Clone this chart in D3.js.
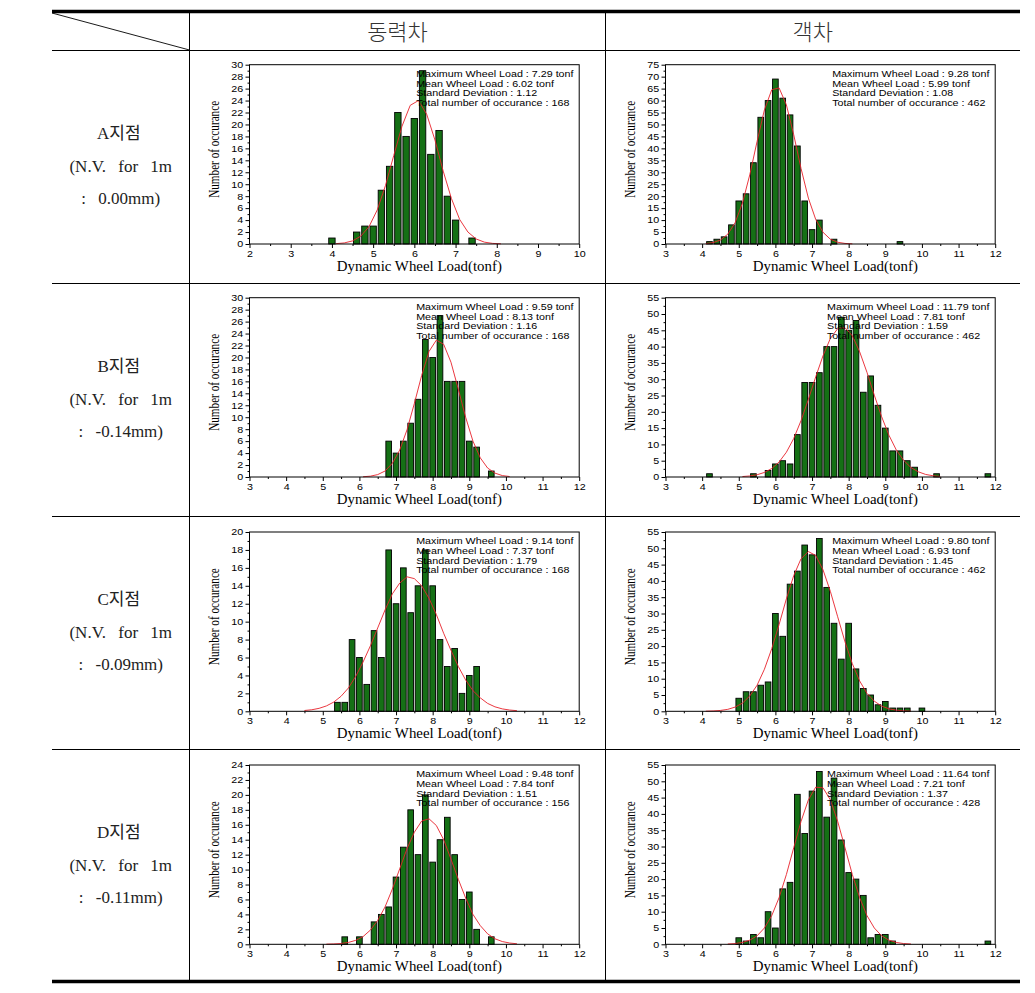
<!DOCTYPE html>
<html><head><meta charset="utf-8">
<script src="https://cdn.jsdelivr.net/npm/d3@7"></script>
<style>body{margin:0;background:#fff}</style>
</head><body><svg id="c" width="1035" height="993"></svg>
<script>
// ---------- text ----------
const columnTitles = ["동력차", "객차"];
const rowNames = ["A지점", "B지점", "C지점", "D지점"];
const rowSubLine = ["(N.V. for 1m", "(N.V. for 1m", "(N.V. for 1m", "(N.V. for 1m"];
const rowOffsets = [": 0.00mm)", ": -0.14mm)", ": -0.09mm)", ": -0.11mm)"];
const xTitle = "Dynamic Wheel Load(tonf)";
const yTitle = "Number of occurance";

// ---------- tick labels ----------
const xTicksA1 = [2, 3, 4, 5, 6, 7, 8, 9, 10];
const xTicksOther = [3, 4, 5, 6, 7, 8, 9, 10, 11, 12];
const yTicks30 = [0, 2, 4, 6, 8, 10, 12, 14, 16, 18, 20, 22, 24, 26, 28, 30];
const yTicks24 = [0, 2, 4, 6, 8, 10, 12, 14, 16, 18, 20, 22, 24];
const yTicks20 = [0, 2, 4, 6, 8, 10, 12, 14, 16, 18, 20];
const yTicks55 = [0, 5, 10, 15, 20, 25, 30, 35, 40, 45, 50, 55];
const yTicks75 = [0, 5, 10, 15, 20, 25, 30, 35, 40, 45, 50, 55, 60, 65, 70, 75];

// ---------- A point, power car ----------
const binsA1 = [4.0, 4.6, 4.8, 5.0, 5.2, 5.4, 5.6, 5.8, 6.0, 6.2, 6.4, 6.6, 6.8, 7.0, 7.4];
const countsA1 = [1, 2, 3, 3, 9, 13, 22, 18, 21, 29, 15, 19, 8, 4, 1];
const fitXA1 = [4.1, 4.3, 4.5, 4.7, 4.9, 5.1, 5.3, 5.5, 5.7, 5.9, 6.1, 6.3, 6.5, 6.7, 6.9, 7.1, 7.3, 7.5, 7.7, 7.9, 8.1];
const fitYA1 = [0.06, 0.18, 0.52, 1.31, 2.9, 5.7, 9.8, 14.8, 19.7, 23.2, 24, 21.7, 17.4, 12.2, 7.6, 4.1, 2.0, 0.84, 0.31, 0.1, 0.03];
const statsA1 = ["Maximum Wheel Load : 7.29 tonf", "Mean Wheel Load : 6.02 tonf", "Standard Deviation : 1.12", "Total number of occurance : 168"];

// ---------- A point, passenger car ----------
const binsA2 = [4.2, 4.4, 4.6, 4.8, 5.0, 5.2, 5.4, 5.6, 5.8, 6.0, 6.2, 6.4, 6.6, 6.8, 7.0, 7.2, 7.6, 9.4];
const countsA2 = [1, 2, 3, 8, 18, 21, 34, 53, 60, 69, 61, 54, 41, 18, 6, 10, 2, 1];
const fitXA2 = [4.1, 4.3, 4.5, 4.7, 4.9, 5.1, 5.3, 5.5, 5.7, 5.9, 6.1, 6.3, 6.5, 6.7, 6.9, 7.1, 7.3, 7.5, 7.7, 7.9, 8.1];
const fitYA2 = [0.18, 0.59, 1.66, 4.1, 8.9, 17.1, 28.9, 42.9, 56.1, 64.5, 65.3, 58.2, 45.7, 31.6, 19.2, 10.3, 4.9, 2.0, 0.73, 0.24, 0.07];
const statsA2 = ["Maximum Wheel Load : 9.28 tonf", "Mean Wheel Load : 5.99 tonf", "Standard Deviation : 1.08", "Total number of occurance : 462"];

// ---------- B point, power car ----------
const binsB1 = [6.8, 7.0, 7.2, 7.4, 7.6, 7.8, 8.0, 8.2, 8.4, 8.6, 8.8, 9.0, 9.2, 9.6];
const countsB1 = [6, 4, 6, 9, 13, 23, 20, 27, 16, 16, 16, 6, 5, 1];
const fitXB1 = [6.1, 6.3, 6.5, 6.7, 6.9, 7.1, 7.3, 7.5, 7.7, 7.9, 8.1, 8.3, 8.5, 8.7, 8.9, 9.1, 9.3, 9.5, 9.7, 9.9, 10.1];
const fitYB1 = [0.04, 0.14, 0.4, 1.0, 2.3, 4.5, 7.9, 12.3, 17.0, 21.0, 22.9, 22.2, 19.2, 14.7, 10.0, 6.0, 3.2, 1.5, 0.65, 0.24, 0.08];
const statsB1 = ["Maximum Wheel Load : 9.59 tonf", "Mean Wheel Load : 8.13 tonf", "Standard Deviation : 1.16", "Total number of occurance : 168"];

// ---------- B point, passenger car ----------
const binsB2 = [4.2, 5.4, 5.8, 6.0, 6.2, 6.4, 6.6, 6.8, 7.0, 7.2, 7.4, 7.6, 7.8, 8.0, 8.2, 8.4, 8.6, 8.8, 9.0, 9.2, 9.4, 9.6, 9.8, 10.4, 11.8];
const countsB2 = [1, 1, 2, 4, 5, 4, 13, 29, 29, 32, 40, 40, 49, 45, 48, 26, 31, 22, 15, 8, 8, 5, 3, 1, 1];
const fitXB2 = [5.1, 5.3, 5.5, 5.7, 5.9, 6.1, 6.3, 6.5, 6.7, 6.9, 7.1, 7.3, 7.5, 7.7, 7.9, 8.1, 8.3, 8.5, 8.7, 8.9, 9.1, 9.3, 9.5, 9.7, 9.9, 10.1, 10.3, 10.5];
const fitYB2 = [0.14, 0.32, 0.69, 1.4, 2.6, 4.6, 7.6, 11.8, 17.3, 23.8, 30.7, 37.2, 42.5, 45.5, 45.8, 43.3, 38.4, 32.1, 25.1, 18.5, 12.8, 8.3, 5.1, 2.9, 1.6, 0.79, 0.38, 0.17];
const statsB2 = ["Maximum Wheel Load : 11.79 tonf", "Mean Wheel Load : 7.81 tonf", "Standard Deviation : 1.59", "Total number of occurance : 462"];

// ---------- C point, power car ----------
const binsC1 = [5.4, 5.6, 5.8, 6.0, 6.2, 6.4, 6.6, 6.8, 7.0, 7.2, 7.4, 7.6, 7.8, 8.0, 8.2, 8.4, 8.6, 8.8, 9.0, 9.2];
const countsC1 = [1, 1, 8, 6, 3, 9, 6, 18, 12, 16, 11, 14, 18, 14, 8, 5, 7, 2, 4, 5];
const fitXC1 = [4.5, 4.7, 4.9, 5.1, 5.3, 5.5, 5.7, 5.9, 6.1, 6.3, 6.5, 6.7, 6.9, 7.1, 7.3, 7.5, 7.7, 7.9, 8.1, 8.3, 8.5, 8.7, 8.9, 9.1, 9.3, 9.5, 9.7, 9.9, 10.1, 10.3];
const fitYC1 = [0.09, 0.17, 0.33, 0.6, 1.03, 1.68, 2.6, 3.9, 5.5, 7.3, 9.3, 11.3, 13.1, 14.3, 15.0, 14.8, 14.0, 12.6, 10.8, 8.7, 6.8, 5.0, 3.5, 2.3, 1.5, 0.88, 0.5, 0.27, 0.14, 0.07];
const statsC1 = ["Maximum Wheel Load : 9.14 tonf", "Mean Wheel Load : 7.37 tonf", "Standard Deviation : 1.79", "Total number of occurance : 168"];

// ---------- C point, passenger car ----------
const binsC2 = [5.0, 5.2, 5.4, 5.6, 5.8, 6.0, 6.2, 6.4, 6.6, 6.8, 7.0, 7.2, 7.4, 7.6, 7.8, 8.0, 8.2, 8.4, 8.6, 8.8, 9.0, 9.2, 9.4, 9.6, 10.0];
const countsC2 = [4, 6, 6, 8, 9, 30, 23, 39, 43, 51, 48, 53, 38, 27, 16, 27, 13, 7, 5, 2, 3, 1, 1, 1, 1];
const fitXC2 = [4.1, 4.3, 4.5, 4.7, 4.9, 5.1, 5.3, 5.5, 5.7, 5.9, 6.1, 6.3, 6.5, 6.7, 6.9, 7.1, 7.3, 7.5, 7.7, 7.9, 8.1, 8.3, 8.5, 8.7, 8.9, 9.1, 9.3, 9.5, 9.7];
const fitYC2 = [0.04, 0.11, 0.26, 0.6, 1.29, 2.5, 4.7, 8.0, 12.9, 19.2, 26.6, 34.5, 41.6, 46.8, 49, 47.8, 43.4, 36.8, 29.0, 21.3, 14.6, 9.3, 5.5, 3.1, 1.6, 0.76, 0.34, 0.14, 0.05];
const statsC2 = ["Maximum Wheel Load : 9.80 tonf", "Mean Wheel Load : 6.93 tonf", "Standard Deviation : 1.45", "Total number of occurance : 462"];

// ---------- D point, power car ----------
const binsD1 = [5.6, 6.0, 6.4, 6.6, 6.8, 7.0, 7.2, 7.4, 7.6, 7.8, 8.0, 8.2, 8.4, 8.6, 8.8, 9.0, 9.2, 9.6];
const countsD1 = [1, 1, 3, 4, 5, 9, 13, 18, 12, 20, 11, 14, 17, 12, 6, 7, 2, 1];
const fitXD1 = [5.1, 5.3, 5.5, 5.7, 5.9, 6.1, 6.3, 6.5, 6.7, 6.9, 7.1, 7.3, 7.5, 7.7, 7.9, 8.1, 8.3, 8.5, 8.7, 8.9, 9.1, 9.3, 9.5, 9.7, 9.9, 10.1, 10.3];
const fitYD1 = [0.02, 0.05, 0.11, 0.25, 0.53, 1.03, 1.9, 3.2, 5.0, 7.4, 10.1, 12.8, 15.0, 16.5, 16.8, 15.9, 14.0, 11.4, 8.7, 6.2, 4.0, 2.5, 1.4, 0.74, 0.37, 0.17, 0.07];
const statsD1 = ["Maximum Wheel Load : 9.48 tonf", "Mean Wheel Load : 7.84 tonf", "Standard Deviation : 1.51", "Total number of occurance : 156"];

// ---------- D point, passenger car ----------
const binsD2 = [5.0, 5.2, 5.4, 5.6, 5.8, 6.0, 6.2, 6.4, 6.6, 6.8, 7.0, 7.2, 7.4, 7.6, 7.8, 8.0, 8.2, 8.4, 8.6, 8.8, 9.0, 9.2, 11.8];
const countsD2 = [2, 1, 3, 2, 10, 5, 17, 19, 46, 34, 47, 53, 39, 51, 32, 22, 20, 15, 2, 3, 3, 1, 1];
const fitXD2 = [4.7, 4.9, 5.1, 5.3, 5.5, 5.7, 5.9, 6.1, 6.3, 6.5, 6.7, 6.9, 7.1, 7.3, 7.5, 7.7, 7.9, 8.1, 8.3, 8.5, 8.7, 8.9, 9.1, 9.3, 9.5, 9.7];
const fitYD2 = [0.09, 0.23, 0.57, 1.27, 2.6, 5.0, 8.8, 14.3, 21.4, 29.6, 37.7, 44.3, 48.2, 48.0, 44.3, 37.7, 29.6, 21.4, 14.3, 8.8, 5.0, 2.6, 1.27, 0.57, 0.23, 0.09];
const statsD2 = ["Maximum Wheel Load : 11.64 tonf", "Mean Wheel Load : 7.21 tonf", "Standard Deviation : 1.37", "Total number of occurance : 428"];

// ---------- panel table built from the arrays ----------
const panels = [
  {row: 0, col: 0, bins: binsA1, counts: countsA1, fitX: fitXA1, fitY: fitYA1, stats: statsA1, xTicks: xTicksA1, yTicks: yTicks30},
  {row: 0, col: 1, bins: binsA2, counts: countsA2, fitX: fitXA2, fitY: fitYA2, stats: statsA2, xTicks: xTicksOther, yTicks: yTicks75},
  {row: 1, col: 0, bins: binsB1, counts: countsB1, fitX: fitXB1, fitY: fitYB1, stats: statsB1, xTicks: xTicksOther, yTicks: yTicks30},
  {row: 1, col: 1, bins: binsB2, counts: countsB2, fitX: fitXB2, fitY: fitYB2, stats: statsB2, xTicks: xTicksOther, yTicks: yTicks55},
  {row: 2, col: 0, bins: binsC1, counts: countsC1, fitX: fitXC1, fitY: fitYC1, stats: statsC1, xTicks: xTicksOther, yTicks: yTicks20},
  {row: 2, col: 1, bins: binsC2, counts: countsC2, fitX: fitXC2, fitY: fitYC2, stats: statsC2, xTicks: xTicksOther, yTicks: yTicks55},
  {row: 3, col: 0, bins: binsD1, counts: countsD1, fitX: fitXD1, fitY: fitYD1, stats: statsD1, xTicks: xTicksOther, yTicks: yTicks24},
  {row: 3, col: 1, bins: binsD2, counts: countsD2, fitX: fitXD2, fitY: fitYD2, stats: statsD2, xTicks: xTicksOther, yTicks: yTicks55}
];

// ---------- layout ----------
const svg = d3.select("#c");
const TL = 52, TR = 1020;
const colDiv = [189.5, 605.5];
const headerBottom = 50;
const rowLines = [50, 283, 516, 749];
const tableBottom = 981.5;
const plotTops = [64.7, 297.7, 532, 765];
const PW = 329.7, PH = 179.3;
const BAR_W = 0.155;
const serif = "'Liberation Serif', 'Times New Roman', 'Noto Sans CJK KR', serif";
const sans = "'Liberation Sans', Arial, sans-serif";
const cjk = "'Noto Sans CJK KR', sans-serif";

// table
const tbl = svg.append("g").attr("stroke", "#000").attr("fill", "none");
tbl.append("line").attr("x1", TL).attr("x2", TR).attr("y1", 11.5).attr("y2", 11.5).attr("stroke-width", 3.5);
tbl.append("line").attr("x1", TL).attr("x2", TR).attr("y1", tableBottom).attr("y2", tableBottom).attr("stroke-width", 3.5);
rowLines.forEach(y => tbl.append("line").attr("x1", TL).attr("x2", TR).attr("y1", y + 0.5).attr("y2", y + 0.5).attr("stroke-width", 1));
colDiv.forEach(x => tbl.append("line").attr("x1", x).attr("x2", x).attr("y1", 13).attr("y2", tableBottom - 1.5).attr("stroke-width", 1));
tbl.append("line").attr("x1", TL).attr("y1", 13).attr("x2", colDiv[0]).attr("y2", headerBottom).attr("stroke-width", 0.9);

// header
const colCenters = [(colDiv[0] + colDiv[1]) / 2, (colDiv[1] + TR) / 2];
columnTitles.forEach((t, i) => {
  svg.append("text").attr("x", colCenters[i]).attr("y", 30).attr("text-anchor", "middle")
    .attr("dominant-baseline", "central").attr("font-family", cjk).attr("font-size", 22)
    .attr("font-weight", 300).attr("fill", "#333").text(t);
});

// row labels
rowNames.forEach((name, i) => {
  const mid = (rowLines[i] + (i < 3 ? rowLines[i + 1] : tableBottom)) / 2;
  const cx = (TL + colDiv[0]) / 2;
  const g = svg.append("g").attr("font-family", serif).attr("font-size", 17).attr("fill", "#222")
    .attr("text-anchor", "middle");
  g.append("text").attr("x", cx - 2).attr("y", mid - 33).attr("dominant-baseline", "central").text(name);
  g.append("text").attr("x", cx).attr("y", mid).attr("dominant-baseline", "central")
    .style("word-spacing", "8px").text(rowSubLine[i]);
  g.append("text").attr("x", cx).attr("y", mid + 32).attr("dominant-baseline", "central")
    .style("word-spacing", "8px").text(rowOffsets[i]);
});

// panels
panels.forEach(p => {
  const x0 = colDiv[p.col] + 60, y0 = plotTops[p.row];
  const g = svg.append("g").attr("transform", `translate(${x0},${y0})`);
  const x = d3.scaleLinear().domain(d3.extent(p.xTicks)).range([0, PW]);
  const y = d3.scaleLinear().domain(d3.extent(p.yTicks)).range([PH, 0]);

  // bars
  g.append("g").selectAll("rect").data(d3.zip(p.bins, p.counts)).join("rect")
    .attr("x", d => x(d[0] - BAR_W / 2))
    .attr("width", d => x(d[0] + BAR_W / 2) - x(d[0] - BAR_W / 2))
    .attr("y", d => y(d[1]))
    .attr("height", d => y(0) - y(d[1]))
    .attr("fill", "#157015").attr("stroke", "#000").attr("stroke-width", 0.9);

  // fitted curve
  g.append("path").datum(d3.zip(p.fitX, p.fitY))
    .attr("fill", "none").attr("stroke", "#e8212a").attr("stroke-width", 0.9)
    .attr("d", d3.line().x(d => x(d[0])).y(d => y(d[1])));

  // frame
  g.append("rect").attr("x", 0).attr("y", 0).attr("width", PW).attr("height", PH)
    .attr("fill", "none").attr("stroke", "#000").attr("stroke-width", 1);

  // minor ticks
  const xt = p.xTicks, yt = p.yTicks;
  const xMinor = xt.slice(1).map((v, i) => (v + xt[i]) / 2);
  const yMinor = yt.slice(1).map((v, i) => (v + yt[i]) / 2);
  g.append("g").attr("transform", `translate(0,${PH})`)
    .call(d3.axisBottom(x).tickValues(xMinor).tickSize(2).tickFormat(""))
    .call(a => a.select(".domain").remove());
  g.append("g")
    .call(d3.axisLeft(y).tickValues(yMinor).tickSize(2).tickFormat(""))
    .call(a => a.select(".domain").remove());

  // major axes
  const ax = g.append("g").attr("transform", `translate(0,${PH})`)
    .call(d3.axisBottom(x).tickValues(xt).tickSize(4).tickPadding(2.3).tickFormat(d3.format("d")));
  ax.select(".domain").remove();
  ax.selectAll("text").attr("font-family", sans).attr("font-size", 8.8).attr("fill", "#000")
    .attr("transform", "scale(1.22,1)");
  const ay = g.append("g")
    .call(d3.axisLeft(y).tickValues(yt).tickSize(4).tickPadding(1.2).tickFormat(d3.format("d")));
  ay.select(".domain").remove();
  ay.selectAll("text").attr("font-family", sans).attr("font-size", 8.8).attr("fill", "#000")
    .attr("transform", "scale(1.22,1)");

  // axis titles
  g.append("text").attr("x", PW / 2 + 5).attr("y", PH + 26.6).attr("text-anchor", "middle")
    .attr("font-family", serif).attr("font-size", 13.6).attr("fill", "#000")
    .attr("textLength", 165).attr("lengthAdjust", "spacingAndGlyphs").text(xTitle);
  g.append("text").attr("transform", `translate(-30.8,${PH / 2 - 5}) rotate(-90)`)
    .attr("text-anchor", "middle").attr("font-family", serif).attr("font-size", 13.6).attr("fill", "#000")
    .attr("textLength", 97).attr("lengthAdjust", "spacingAndGlyphs").text(yTitle);

  // statistics block
  const sg = g.append("g").attr("font-family", sans).attr("font-size", 9.5).attr("fill", "#000");
  sg.selectAll("text").data(p.stats).join("text")
    .attr("x", 0).attr("y", (d, i) => i * 9.7).text(d => d);
  const w = sg.select("text").node().getComputedTextLength() * 1.13;
  sg.attr("transform", `translate(${PW - 5.5 - w},12.3) scale(1.13,1)`);
});
</script></body></html>
